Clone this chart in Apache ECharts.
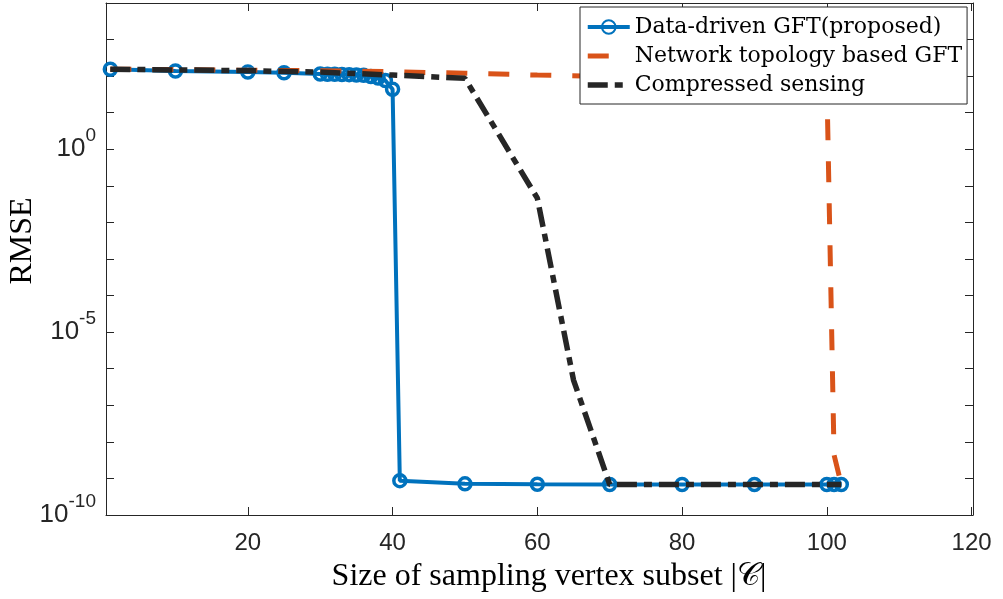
<!DOCTYPE html>
<html>
<head>
<meta charset="utf-8">
<script src="https://cdn.jsdelivr.net/npm/echarts@6/dist/echarts.min.js"></script>
<style>
  html, body { margin: 0; padding: 0; background: #fff; }
  #chart { width: 1003px; height: 599px; }
</style>
</head>
<body>
<div id="chart"></div>
<script>
// Sampling subset sizes and reconstruction RMSE for each method
const sizesProposed = [1, 10, 20, 25, 30, 31, 32, 33, 34, 35, 36, 37, 38, 39, 40, 41, 50, 60, 70, 80, 90, 100, 101, 102];
const rmseProposed = [155, 138, 129, 123, 115, 113, 112, 111, 110, 107, 105, 98, 89, 76, 43.6,
                      8.7e-10, 7.1e-10, 6.9e-10, 6.8e-10, 6.8e-10, 6.8e-10, 6.8e-10, 6.8e-10, 6.8e-10];

const sizesTopology = [1, 10, 20, 30, 40, 50, 60, 70, 80, 90, 100, 101, 102];
const rmseTopology = [155, 151, 145, 141, 132, 120, 107, 98, 91, 85, 79, 4.4e-9, 6.8e-10];

const sizesCS = [1, 10, 20, 30, 40, 50, 60, 65, 70, 80, 90, 100, 101, 102];
const rmseCS = [155, 148, 141, 129, 107, 87, 0.046, 4.9e-7, 6.8e-10, 6.8e-10, 6.8e-10, 6.8e-10, 6.8e-10, 6.8e-10];

const xTickValues = [20, 40, 60, 80, 100, 120];
const yLabelExponents = [-10, -5, 0];

const seriesNames = ['Data-driven GFT(proposed)', 'Network topology based GFT', 'Compressed sensing'];

const pairs = (xs, ys) => xs.map((x, i) => [x, ys[i]]);

const AXIS = '#262626';
const BLUE = '#0072BD';
const ORANGE = '#D95319';
const BLACK = '#262626';

const blueLine = { color: BLUE, width: 4 };
const orangeLine = { color: ORANGE, width: 5, type: [21, 21] };
const blackLine = { color: BLACK, width: 5.5, type: [20, 7, 8, 7] };
const hiddenMarker = { color: 'rgba(0,0,0,0)', borderWidth: 0, opacity: 0 };

const chart = echarts.init(document.getElementById('chart'), null, { renderer: 'canvas' });

const xCommon = {
  type: 'value', min: 0.4, max: 120.2,
  axisLine: { show: true, onZero: false, lineStyle: { color: AXIS, width: 1 } },
  splitLine: { show: false }
};
const yCommon = {
  type: 'log', logBase: 10, min: 1e-10, max: 1e4, interval: 1,
  axisLine: { show: true, onZero: false, lineStyle: { color: AXIS, width: 1 } },
  splitLine: { show: false },
  minorTick: { show: false }
};

chart.setOption({
  animation: false,
  backgroundColor: '#fff',
  grid: { left: 106, right: 30, top: 3, bottom: 84, containLabel: false },
  xAxis: [
    Object.assign({}, xCommon, {
      position: 'bottom',
      axisTick: { show: true, inside: true, length: 8, customValues: xTickValues, lineStyle: { color: AXIS } },
      axisLabel: {
        show: true, customValues: xTickValues, margin: 16,
        fontFamily: 'Liberation Sans', fontSize: 24, color: AXIS
      }
    }),
    Object.assign({}, xCommon, {
      position: 'top',
      axisTick: { show: true, inside: true, length: 8, customValues: xTickValues, lineStyle: { color: AXIS } },
      axisLabel: { show: false }
    })
  ],
  yAxis: [
    Object.assign({}, yCommon, {
      position: 'left',
      axisTick: { show: true, inside: true, length: 8, lineStyle: { color: AXIS } },
      axisLabel: {
        show: true, margin: 10,
        formatter: function (v) {
          const e = Math.round(Math.log10(v));
          if (yLabelExponents.indexOf(e) < 0) return '';
          return '{b|10}{s|' + e + '}';
        },
        rich: {
          b: { fontFamily: 'Liberation Sans', fontSize: 26, color: AXIS, lineHeight: 26, verticalAlign: 'bottom' },
          s: { fontFamily: 'Liberation Sans', fontSize: 19, color: AXIS, lineHeight: 18, verticalAlign: 'bottom', padding: [0, 0, 17, 0] }
        }
      }
    }),
    Object.assign({}, yCommon, {
      position: 'right',
      axisTick: { show: true, inside: true, length: 8, lineStyle: { color: AXIS } },
      axisLabel: { show: false }
    })
  ],
  legend: {
    show: true,
    orient: 'vertical',
    left: 580, top: 7,
    data: [
      { name: seriesNames[0], lineStyle: blueLine },
      { name: seriesNames[1], lineStyle: orangeLine, itemStyle: hiddenMarker },
      { name: seriesNames[2], lineStyle: blackLine, itemStyle: hiddenMarker }
    ],
    backgroundColor: '#fff',
    borderColor: AXIS, borderWidth: 1, borderRadius: 0,
    padding: [9, 5, 8, 5],
    itemGap: 7,
    itemWidth: 42, itemHeight: 17,
    textStyle: { fontFamily: 'DejaVu Serif', fontSize: 22, color: '#000' }
  },
  series: [
    {
      name: seriesNames[0], type: 'line',
      data: pairs(sizesProposed, rmseProposed),
      symbol: 'circle', symbolSize: 12, showAllSymbol: true,
      itemStyle: { color: 'rgba(255,255,255,0)', borderColor: BLUE, borderWidth: 3.5 },
      lineStyle: blueLine,
      z: 2
    },
    {
      name: seriesNames[1], type: 'line',
      data: pairs(sizesTopology, rmseTopology),
      showSymbol: false, symbol: 'none',
      itemStyle: { color: ORANGE },
      lineStyle: orangeLine,
      z: 3
    },
    {
      name: seriesNames[2], type: 'line',
      data: pairs(sizesCS, rmseCS),
      showSymbol: false, symbol: 'none',
      itemStyle: { color: BLACK },
      lineStyle: blackLine,
      z: 4
    }
  ],
  graphic: [
    {
      type: 'text', x: 549, y: 577,
      style: {
        text: 'Size of sampling vertex subset |\uD835\uDC9E|',
        fontFamily: 'Liberation Serif', fontSize: 32, fill: '#000',
        align: 'center', verticalAlign: 'middle'
      }
    },
    {
      type: 'text', x: 23, y: 241, rotation: Math.PI / 2,
      style: {
        text: 'RMSE',
        fontFamily: 'Liberation Serif', fontSize: 32, fill: '#000',
        align: 'center', verticalAlign: 'middle'
      }
    }
  ]
});
</script>
</body>
</html>
